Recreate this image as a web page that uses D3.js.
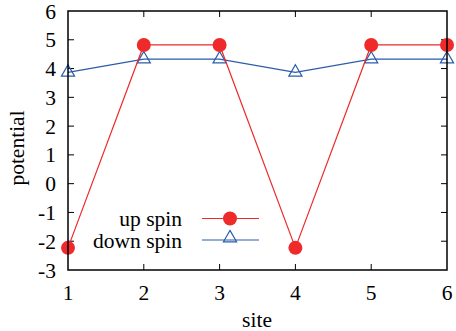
<!DOCTYPE html>
<html>
<head>
<meta charset="utf-8">
<script src="https://cdn.jsdelivr.net/npm/d3@7"></script>
<style>
  body { margin: 0; background: #fff; }
  #myGraph text { font-family: 'Liberation Serif', serif; }
</style>
</head>
<body>
<svg id="myGraph" width="456" height="331"></svg>
<script>
// data
let sites = [1, 2, 3, 4, 5, 6];
let upSpin = [-2.23, 4.82, 4.82, -2.23, 4.82, 4.82];
let downSpin = [3.87, 4.33, 4.33, 3.87, 4.33, 4.33];
let yTicks = [-3, -2, -1, 0, 1, 2, 3, 4, 5, 6];
let legendNames = ["up spin", "down spin"];

let svg = d3.select("#myGraph");
let pLeft = 68, pRight = 447, pTop = 11, pBottom = 270;
let red = "#ee2a2a", blue = "#2a5caa";
let fs = 21.5;

let xScale = d3.scaleLinear().domain([1, 6]).range([pLeft, pRight]);
let yScale = d3.scaleLinear().domain([-3, 6]).range([pBottom, pTop]);

// inner ticks, mirrored on all four sides
let g = svg.append("g");
sites.forEach(function(s){
  if (s == 1 || s == 6) return;
  g.append("line").attr("x1", xScale(s)).attr("x2", xScale(s))
    .attr("y1", pBottom).attr("y2", pBottom - 6).attr("stroke", "#000");
  g.append("line").attr("x1", xScale(s)).attr("x2", xScale(s))
    .attr("y1", pTop).attr("y2", pTop + 6).attr("stroke", "#000");
});
yTicks.forEach(function(t){
  if (t == -3 || t == 6) return;
  g.append("line").attr("x1", pLeft).attr("x2", pLeft + 6)
    .attr("y1", yScale(t)).attr("y2", yScale(t)).attr("stroke", "#000");
  g.append("line").attr("x1", pRight).attr("x2", pRight - 6)
    .attr("y1", yScale(t)).attr("y2", yScale(t)).attr("stroke", "#000");
});

// tick labels
svg.selectAll(".xl").data(sites).enter().append("text")
  .attr("x", d => xScale(d)).attr("y", 300)
  .attr("text-anchor", "middle").attr("font-size", fs)
  .text(d => d);
svg.selectAll(".yl").data(yTicks).enter().append("text")
  .attr("x", 56).attr("y", d => yScale(d) + 7.5)
  .attr("text-anchor", "end").attr("font-size", fs)
  .text(d => d);

// axis titles
svg.append("text").attr("x", 257).attr("y", 326.5)
  .attr("text-anchor", "middle").attr("font-size", fs).text("site");
svg.append("text")
  .attr("transform", "translate(24,148) rotate(-90)")
  .attr("text-anchor", "middle").attr("font-size", fs).text("potential");

let line = d3.line().x((d, i) => xScale(sites[i])).y(d => yScale(d));

// down spin
svg.append("path").datum(downSpin).attr("d", line)
  .attr("fill", "none").attr("stroke", blue).attr("stroke-width", 1.2);
let tri = d3.symbol().type(d3.symbolTriangle).size(75);
svg.selectAll(".tri").data(downSpin).enter().append("path")
  .attr("d", tri)
  .attr("transform", (d, i) => "translate(" + xScale(sites[i]) + "," + yScale(d) + ")")
  .attr("fill", "none").attr("stroke", blue).attr("stroke-width", 1.2);

// up spin
svg.append("path").datum(upSpin).attr("d", line)
  .attr("fill", "none").attr("stroke", red).attr("stroke-width", 1.2);
svg.selectAll(".dot").data(upSpin).enter().append("circle")
  .attr("cx", (d, i) => xScale(sites[i])).attr("cy", d => yScale(d))
  .attr("r", 7).attr("fill", red);

// frame
svg.append("rect").attr("x", pLeft).attr("y", pTop)
  .attr("width", pRight - pLeft).attr("height", pBottom - pTop)
  .attr("fill", "none").attr("stroke", "#000").attr("stroke-width", 1.5);

// legend
let legY = [218.5, 240];
legendNames.forEach(function(name, i){
  let y = legY[i];
  let c = i == 0 ? red : blue;
  svg.append("text").attr("x", 182).attr("y", y + 7.5)
    .attr("text-anchor", "end").attr("font-size", fs).text(name);
  svg.append("line").attr("x1", 202).attr("x2", 259)
    .attr("y1", y).attr("y2", y).attr("stroke", c).attr("stroke-width", 1.2);
  if (i == 0) {
    svg.append("circle").attr("cx", 230).attr("cy", y).attr("r", 7).attr("fill", red);
  } else {
    svg.append("path").attr("d", tri)
      .attr("transform", "translate(230," + (y - 2) + ")")
      .attr("fill", "none").attr("stroke", blue).attr("stroke-width", 1.2);
  }
});
</script>
</body>
</html>
